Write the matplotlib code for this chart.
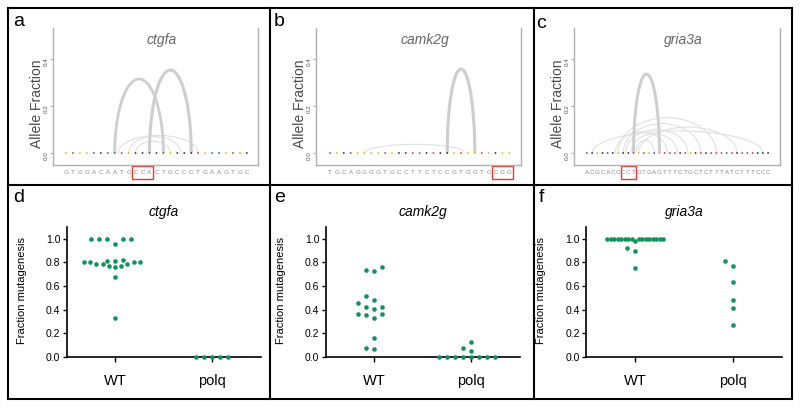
# -*- coding: utf-8 -*-
"""
Six-panel figure: deletion arc plots (a-c) and mutagenesis scatter (d-f).
Saves out.png (800x409).
"""

import numpy as np
import matplotlib
matplotlib.use("Agg")
import matplotlib.pyplot as plt
from matplotlib.patches import Rectangle
from matplotlib.lines import Line2D
from matplotlib.transforms import blended_transform_factory

plt.rcParams["font.family"] = ["Liberation Sans", "DejaVu Sans"]

W_PX, H_PX = 800, 409
DPI = 100

# ====== data ======
genes = ["ctgfa", "camk2g", "gria3a"]
groups = ["WT", "polq"]

seq_ctgfa = "GTGGACAATGCCACTGCCCTGAAGTGC"
seq_camk2g = "TGCAGGGGTGCCTTCTCCGTGGTGCGG"
seq_gria3a = "ACGCACGCCTGTGAGTTTCTGCTCTTTATCTTTCCC"

# boxed bases (first, last index)
pam_ctgfa = [10, 12]
pam_camk2g = [24, 26]
pam_gria3a = [7, 9]

# deletion arcs: start base, end base, allele fraction
arc_start_ctgfa = [7, 12, 7.5, 9, 10]
arc_end_ctgfa = [14, 18, 19, 16.5, 15]
arc_frac_ctgfa = [0.315, 0.353, 0.075, 0.07, 0.05]

arc_start_camk2g = [17, 5]
arc_end_camk2g = [21, 19.5]
arc_frac_camk2g = [0.357, 0.037]

arc_start_gria3a = [9, 1, 6, 7, 7.5, 8.5, 5.5, 9.5, 10]
arc_end_gria3a = [14, 34, 25, 22, 19.5, 17.5, 15.5, 13, 29]
arc_frac_gria3a = [0.336, 0.094, 0.15, 0.125, 0.10, 0.082, 0.09, 0.054, 0.11]

# fraction mutagenesis per embryo
ctgfa_wt = [1.0, 1.0, 1.0, 1.0, 1.0, 0.955,
            0.80, 0.82, 0.79, 0.81, 0.77, 0.80, 0.76, 0.80, 0.77, 0.80, 0.79, 0.81, 0.79,
            0.675, 0.33]
ctgfa_polq = [0.0, 0.0, 0.0, 0.0, 0.0]

camk2g_wt = [0.736, 0.73, 0.758, 0.52, 0.48, 0.455, 0.42, 0.407, 0.424,
             0.362, 0.331, 0.354, 0.365, 0.163, 0.067, 0.073]
camk2g_polq = [0.0, 0.0, 0.0, 0.0, 0.0, 0.0, 0.0, 0.0, 0.125, 0.075, 0.055]

gria3a_wt = [1.0] * 16 + [0.985, 0.92, 0.895, 0.75]
gria3a_polq = [0.815, 0.77, 0.635, 0.48, 0.415, 0.27]
# ==================

NT_COLORS = {"A": "#3050a0", "C": "#25254a", "G": "#e0b020", "T": "#d03030"}
SPINE_GRAY = "#b0b0b0"
DOT_GREEN = "#12915a"


def add_axes_px(fig, left, top, right, bottom):
    return fig.add_axes([left / W_PX, 1 - bottom / H_PX,
                         (right - left) / W_PX, (bottom - top) / H_PX])


def fig_line(fig, x0, y0, x1, y1):
    fig.add_artist(Line2D([x0 / W_PX, x1 / W_PX], [1 - y0 / H_PX, 1 - y1 / H_PX],
                          transform=fig.transFigure, color="black", lw=1.5))


def arc_panel(ax, gene, seq, pam, starts, ends, fracs, xlim):
    ax.set_xlim(*xlim)
    ax.set_ylim(-0.051, 0.532)
    for side in ("left", "bottom", "right"):
        ax.spines[side].set_color(SPINE_GRAY)
        ax.spines[side].set_linewidth(1.0)
    ax.spines["top"].set_visible(False)
    ax.set_xticks([])
    ax.set_yticks([0.0, 0.2, 0.4])
    ax.set_yticklabels(["0.0", "0.2", "0.4"])
    ax.tick_params(axis="y", labelrotation=90, labelsize=4.5, labelcolor="#555555",
                   color=SPINE_GRAY, length=2, pad=1)

    t = np.linspace(0, np.pi, 120)
    for s, e, f in sorted(zip(starts, ends, fracs), key=lambda r: r[2]):
        xc, rx = (s + e) / 2, (e - s) / 2
        thick = f > 0.2
        ax.plot(xc + rx * np.cos(t), f * np.sin(t),
                color="#cecece" if thick else "#e0e0e0",
                lw=0.4 + 5.2 * f if thick else 0.8,
                solid_capstyle="butt", zorder=3 if thick else 2)

    idx = np.arange(len(seq))
    ax.scatter(idx, np.zeros(len(seq)), s=1.6, c=[NT_COLORS[ch] for ch in seq],
               linewidths=0, zorder=4, clip_on=False)

    trans = blended_transform_factory(ax.transData, ax.transAxes)
    for i, ch in enumerate(seq):
        ax.text(i, -0.055, ch, transform=trans, ha="center", va="center",
                fontsize=4.5, color="#8a8a8a")
    ax.add_patch(Rectangle((pam[0] - 0.5, -0.102), pam[1] - pam[0] + 1, 0.095,
                           transform=trans, fill=False, ec="#e03c31", lw=1.0,
                           clip_on=False))

    ax.text(-0.08, 0.45, "Allele Fraction", transform=ax.transAxes, rotation=90,
            ha="center", va="center", fontsize=10, color="#4a4a4a")
    ax.text(0.53, 0.91, gene, transform=ax.transAxes, ha="center", va="center",
            fontsize=10, style="italic", color="#666666")


def swarm_offsets(values, px_per_x, step=8.0, max_width=56.0, row_h=0.05):
    """GraphPad-like spread: group close values into rows, fan them out."""
    values = np.asarray(values, dtype=float)
    order = np.argsort(values, kind="stable")
    rows = []
    for i in order:
        v = values[i]
        if rows and v - values[rows[-1][0]] <= row_h:
            rows[-1].append(i)
        else:
            rows.append([i])
    offsets = np.zeros(len(values))
    for row in rows:
        n = len(row)
        s = step if n < 2 else min(step, max_width / (n - 1))
        for k, i in enumerate(row):
            slot = (k + 1) // 2 * (-1 if k % 2 else 1)
            offsets[i] = slot * s / px_per_x
    return offsets


def scatter_panel(ax, gene, wt, polq):
    ax.set_xlim(-0.5, 1.5)
    ax.set_ylim(0, 1.1)
    px_per_x = ax.get_window_extent().width / 2.0
    for pos, vals in enumerate([wt, polq]):
        x = pos + swarm_offsets(vals, px_per_x)
        ax.plot(x, vals, "o", ms=3.3, color=DOT_GREEN, mec="none",
                clip_on=False, zorder=3)

    ax.spines["top"].set_visible(False)
    ax.spines["right"].set_visible(False)
    for side in ("left", "bottom"):
        ax.spines[side].set_linewidth(1.2)
    ax.set_yticks(np.arange(0, 1.01, 0.2))
    ax.set_yticklabels([f"{v:.1f}" for v in np.arange(0, 1.01, 0.2)])
    ax.set_xticks([0, 1])
    ax.set_xticklabels(groups)
    ax.tick_params(axis="y", labelsize=7.5, length=3, width=1, pad=1.5)
    ax.tick_params(axis="x", labelsize=10.5, length=3.5, width=1, pad=9)
    ax.set_ylabel("Fraction mutagenesis", fontsize=8)
    ax.yaxis.set_label_coords(-0.204, 0.51)
    ax.set_title(gene, fontsize=10, style="italic", pad=8)


def main():
    fig = plt.figure(figsize=(W_PX / DPI, H_PX / DPI), dpi=DPI)

    # panel frames
    fig_line(fig, 8, 8, 792, 8)
    fig_line(fig, 8, 399, 792, 399)
    fig_line(fig, 8, 8, 8, 399)
    fig_line(fig, 792, 8, 792, 399)
    fig_line(fig, 8, 185, 792, 185)
    fig_line(fig, 270, 8, 270, 399)
    fig_line(fig, 534, 8, 534, 399)

    top = [
        (add_axes_px(fig, 53, 28, 258, 165), seq_ctgfa, pam_ctgfa,
         arc_start_ctgfa, arc_end_ctgfa, arc_frac_ctgfa, (-1.87, 27.6)),
        (add_axes_px(fig, 316, 28, 521, 165), seq_camk2g, pam_camk2g,
         arc_start_camk2g, arc_end_camk2g, arc_frac_camk2g, (-2.03, 27.7)),
        (add_axes_px(fig, 574, 28, 780, 165), seq_gria3a, pam_gria3a,
         arc_start_gria3a, arc_end_gria3a, arc_frac_gria3a, (-2.5, 37.3)),
    ]
    for gene, (ax, seq, pam, st, en, fr, xl) in zip(genes, top):
        arc_panel(ax, gene, seq, pam, st, en, fr, xl)

    bottom = [
        (add_axes_px(fig, 66.5, 227, 260.5, 357), ctgfa_wt, ctgfa_polq),
        (add_axes_px(fig, 325.5, 227, 519.5, 357), camk2g_wt, camk2g_polq),
        (add_axes_px(fig, 586, 227, 782, 357), gria3a_wt, gria3a_polq),
    ]
    for gene, (ax, wt, polq) in zip(genes, bottom):
        scatter_panel(ax, gene, wt, polq)

    for letter, x, y in [("a", 19, 22), ("b", 279, 22), ("c", 541, 23),
                         ("d", 19, 198), ("e", 280, 198), ("f", 541, 198)]:
        fig.text(x / W_PX, 1 - y / H_PX, letter, fontsize=14, ha="center", va="center")

    fig.savefig("out.png", dpi=DPI)
    plt.close(fig)


if __name__ == "__main__":
    main()
